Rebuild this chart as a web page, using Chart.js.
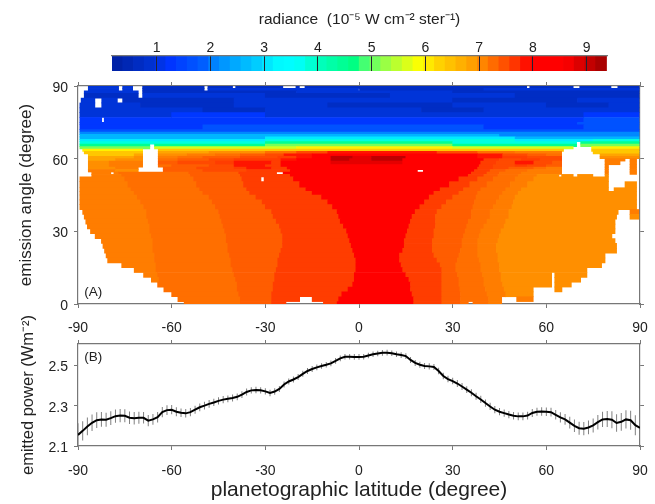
<!DOCTYPE html>
<html><head><meta charset="utf-8">
<style>html,body{margin:0;padding:0;background:#fff;width:655px;height:504px;overflow:hidden}canvas{position:absolute;left:0}</style>
<script src="https://cdn.jsdelivr.net/npm/chart.js@4/dist/chart.umd.min.js"></script>
</head><body>
<canvas id="cb" width="655" height="76" style="top:0"></canvas>
<canvas id="map" width="655" height="262" style="top:76px"></canvas>
<canvas id="pow" width="655" height="198" style="top:306px"></canvas>
<script>
// ---------- data ----------
const colorbarTicks=[1,2,3,4,5,6,7,8,9];
const colorbarLevels=[0.27,0.47,0.67,0.87,1.07,1.27,1.47,1.67,1.87,2.07,2.27,2.47,2.67,2.87,3.07,3.27,3.47,3.67,3.87,4.07,4.27,4.47,4.67,4.87,5.07,5.27,5.47,5.67,5.87,6.07,6.27,6.47,6.67,6.87,7.07,7.27,7.47,7.67,7.87,8.07,8.27,8.47,8.67,8.87,9.07,9.27];
const latTicks=[-90,-60,-30,0,30,60,90];
const angleTicks=[0,30,60,90];
const powerTicks=[2.1,2.3,2.5];
// radiance of each letter used in the map rows
const levelValues={a:.7,b:1,c:1.3,d:1.7,e:2.1,f:2.6,g:3.1,h:3.8,i:4.5,j:5.1,k:5.6,l:6,m:6.4,n:6.8,o:7,p:7.13,q:7.24,r:7.38,s:7.52,t:7.62,u:7.85,v:8.2,w:8.8,x:9.1};
// radiance map: each row [angle from, angle to], then runs lat,level,lat,level,...,endLat ('_' = no data)
const rowAngles=[[0,1],[1,3],[3,5],[5,7],[7,9],[9,11],[11,13],[13,15],[15,17],[17,19],[19,21],[21,23],[23,25],[25,27],[27,29],[29,31],[31,33],[33,35],[35,37],[37,39],[39,41],[41,43],[43,45],[45,46.5],[46.5,48],[48,50.5],[50.5,52.5],[52.5,53.5],[53.5,54.5],[54.5,55.5],[55.5,56.5],[56.5,57.5],[57.5,59],[59,60],[60,61],[61,62],[62,63],[63,64],[64,65],[65,66],[66,67],[67,68],[68,69],[69,70],[70,71],[71,72],[72,74],[74,75],[75,77],[77,79],[79,81],[81,83],[83,85],[85,87],[87,88],[88,89],[89,90]];
const rowRuns=[
[-56,'q',-38,'r',-28,'t',-23.4,'_',-11.4,'t',-7,'v',17.5,'t',26.5,'r',32.5,'q',35,'_',36.5,'q',41.5,'p',45.7],
[-58,'q',-38,'r',-28,'t',-19,'_',-15,'t',-6.5,'v',17.5,'t',26.5,'r',32.5,'q',41.5,'p',45.7,'_',50.5,'p',55.8],
[-60,'q',-38.5,'r',-28,'t',-5.5,'v',17,'t',26.5,'r',32.5,'q',41,'p',47,'o',55.8],
[-62.5,'q',-39,'r',-27.5,'t',-3.5,'v',16.5,'t',26.5,'r',32.3,'q',40.5,'p',46.5,'o',55.8,'_',62.7,'o',65],
[-64.5,'q',-39,'r',-27.5,'t',-2,'v',16.5,'t',26.5,'r',32,'q',40,'p',46,'o',61.7,'_',62.7,'o',68],
[-66.5,'p',-64,'q',-39.5,'r',-27,'t',-1.5,'v',16,'t',26.5,'r',32,'q',40,'p',45.5,'o',61.7,'_',62.7,'o',71],
[-69,'p',-64.5,'q',-40,'r',-27,'t',-1.5,'v',15,'t',26.5,'r',31.5,'q',39.5,'p',45.5,'o',61.7,'_',62.7,'o',73],
[-72,'p',-65,'q',-40.5,'r',-26.5,'t',-1,'v',14,'t',26.5,'r',31,'q',39,'p',45,'o',73],
[-76,'p',-65,'q',-41,'r',-26,'t',-1,'v',13.5,'t',26,'r',31,'q',39,'p',45,'o',77.7],
[-80.5,'p',-65.5,'q',-41,'r',-26,'t',-1,'v',13,'t',25,'r',31.5,'q',38.5,'p',44.5,'o',78.8],
[-81,'p',-65.5,'q',-41.5,'r',-25.5,'t',-1.5,'v',13,'t',24,'r',32,'q',38,'p',44.5,'o',78.8],
[-81.5,'p',-66,'q',-42,'r',-25,'t',-2,'v',14,'t',23.5,'r',32.5,'q',38,'p',44,'o',82.5],
[-82,'p',-66,'q',-42,'r',-24.5,'t',-2.5,'v',14.5,'t',23.5,'r',33,'q',38,'p',44,'o',82.5],
[-82.5,'p',-66,'q',-42.5,'r',-24.5,'t',-3,'v',14.5,'t',23.5,'r',33,'q',38,'p',44.5,'o',82],
[-84.5,'p',-66.5,'q',-42.5,'r',-24.5,'t',-3.5,'v',15,'t',24,'r',33.5,'q',38.5,'p',45,'o',81],
[-86,'p',-67,'q',-43,'r',-25,'t',-4,'v',15.5,'t',24,'r',34,'q',39,'p',45.5,'o',82],
[-87,'p',-67,'q',-43.5,'r',-25.5,'t',-5,'v',16,'t',24.5,'r',34.5,'q',40,'p',46.5,'o',82],
[-87.5,'p',-67.5,'q',-44,'r',-26.5,'t',-6,'v',16.5,'t',24.5,'r',35,'q',41,'p',47,'o',82],
[-88,'p',-68,'q',-44.5,'r',-27.5,'t',-6.5,'v',17,'t',24.5,'r',36,'q',42,'p',48,'o',82.5,'_',86.8,'o',89.6],
[-88.5,'p',-68,'q',-45,'r',-28,'t',-7,'v',18,'t',25,'r',36,'q',42,'p',48,'o',83,'_',86.8,'p',89.6],
[-89.4,'p',-69,'q',-46,'r',-30,'t',-8.5,'v',19.5,'t',26.5,'r',36.5,'q',43,'p',49,'o',88.9],
[-89.4,'p',-70,'q',-47,'r',-31,'t',-10,'v',21,'t',28,'r',37,'q',44,'p',49.5,'o',88.9],
[-89.4,'p',-71,'q',-48,'r',-33,'t',-12,'v',22.5,'t',30,'r',37.5,'q',45,'p',50,'o',88.9],
[-89.4,'p',-72,'q',-50,'r',-35,'t',-15,'v',24,'t',32,'r',38,'q',46,'p',51,'o',88.9],
[-89.4,'p',-73,'q',-51,'r',-36,'t',-17,'v',26,'t',33.5,'r',39,'q',47,'p',52,'o',79.9,'_',81.7,'o',88.9],
[-89.4,'p',-74,'q',-52,'r',-37,'t',-19,'v',29,'t',35.5,'r',41,'q',48.5,'p',54,'o',79.9,'_',85.2,'o',88.9],
[-89.4,'p',-75,'q',-53,'r',-37.5,'t',-31.4,'_',-30.4,'t',-21,'v',32,'t',38,'r',43,'q',50,'p',56,'o',79.9],
[-85.6,'p',-76,'q',-54,'r',-38,'t',-22,'v',35,'t',40,'r',44.5,'q',51,'p',57,'o',64,'_',64.9,'o',68.6,'_',70,'o',74.9,'_',78.8,'o',79.9],
[-85.6,'p',-79.5,'_',-78.5,'p',-77,'q',-54.5,'r',-38.5,'t',-26.4,'_',-24.3,'v',36,'t',41,'r',45,'q',52,'p',64.9,'_',78.8,'p',79.9,'_',86.8,'p',88.9],
[-86.7,'p',-78,'o',-70.7,'_',-62.7,'r',-50,'s',-36,'t',-22,'v',18.7,'_',20.6,'v',37,'t',42,'r',47,'q',54,'p',64.9,'_',78.8,'p',79.9,'_',86.8,'p',88.9],
[-86.7,'o',-78,'p',-70.7,'_',-62.7,'r',-52,'s',-40,'t',-36,'u',-28,'t',-23,'v',38,'t',43,'s',48,'r',56,'q',60,'p',64.9,'_',78.8,'p',79.9,'_',86.8,'p',88.9],
[-86.7,'o',-80,'p',-69.3,'_',-64.3,'q',-60,'r',-48,'s',-40,'u',-30,'t',-25,'v',38.5,'t',43,'s',50,'t',54,'s',60,'r',64.9,'_',78.8,'p',79.9,'_',86.8,'p',88.9],
[-86.7,'o',-80,'p',-69.3,'_',-64.3,'r',-58,'s',-46,'t',-40,'u',-28,'t',-25,'v',-9,'w',14,'v',39,'t',44,'s',50,'u',56,'s',62,'r',64.9,'_',78.8,'p',83.6,'_',86.8,'p',88.9],
[-86.7,'n',-78,'o',-69.3,'_',-64.3,'q',-58,'r',-48,'s',-40,'t',-25,'u',-20,'v',-9,'x',-3,'w',4,'x',14,'v',40,'t',45,'s',52,'t',58,'s',64.9,'_',78.8,'p',85.2,'_',86.8,'p',88.9],
[-86.7,'n',-72,'o',-69.3,'_',-64.3,'p',-58,'q',-50,'r',-38,'s',-26,'t',-20,'u',-15,'v',-9,'x',-2,'w',4,'x',15,'v',38,'u',46,'t',54,'s',64.9,'_',77.2,'o',89.7],
[-86.7,'m',-72,'n',-69.3,'_',-64.3,'o',-55,'p',-46,'q',-38,'r',-30,'s',-24,'u',-15,'v',38,'u',46,'s',54,'r',60,'q',64.9,'_',77.2,'n',89.7],
[-88,'m',-69.3,'_',-64.3,'n',-48,'o',-30,'q',-20,'s',-10,'u',25,'s',38,'q',50,'p',64.9,'_',75,'m',89.7],
[-88.5,'l',-69.3,'_',-64.3,'m',65.5,'_',74.5,'m',89.7],
[-89.4,'j',-67,'_',-65.5,'k',-20,'l',30,'k',68.6,'_',74.5,'l',89.7],
[-89.4,'i',-67,'_',-65.5,'i',-30,'j',30,'i',69.7,'_',71,'j',89.7],
[-89.4,'h',-30,'i',30,'h',69.7,'_',71,'i',89.7],
[-89.4,'g',-30,'h',50,'g',75,'h',89.7],
[-89.4,'f',-30,'g',50,'f',89.7],
[-89.4,'f',45,'e',89.7],
[-89.4,'e',89.7],
[-89.4,'d',89.7],
[-89.4,'c',-50,'d',40,'c',72,'d',89.7],
[-89.4,'c',70,'d',89.7],
[-89.4,'c',-82.4,'_',-81.6,'c',72,'d',89.7],
[-89.4,'b',-60,'c',-30,'b',72,'c',89.7],
[-89.4,'b',-50,'a',-30,'b',20,'a',40,'b',89.7],
[-89.4,'b',-84.6,'_',-82.4,'b',-70,'a',-40,'b',-10,'a',30,'b',60,'a',80,'b',89.7],
[-89,'b',-84.6,'_',-82.4,'b',-77.4,'_',-75.7,'a',-40,'b',30,'a',70,'b',89.7],
[-88,'a',-70.7,'_',-69.3,'b',-30,'a',10,'b',50,'a',89.7],
[-88,'b',-70.7,'_',-69.3,'a',-20,'b',30,'a',89.7],
[-86.7,'b',-77,'_',-75.7,'b',-72.5,'_',-69.3,'a',-49.6,'_',-48.4,'b',0,'a',40,'b',89.7],
[-86.7,'b',-77,'_',-75.7,'b',-72.5,'_',-69.3,'a',-49.6,'_',-48.4,'a',-40.5,'_',-39.5,'a',-24.4,'_',-20.2,'a',-19.1,'_',-17.3,'a',53.7,'_',54.7,'a',68.6,'_',70.7,'a',80.7,'_',82.9,'a',89.7]
];
// emitted power vs latitude
const powerLat=[-90,-88.5,-87,-85.5,-84,-82.5,-81,-79.5,-78,-76.5,-75,-73.5,-72,-70.5,-69,-67.5,-66,-64.5,-63,-61.5,-60,-58.5,-57,-55.5,-54,-52.5,-51,-49.5,-48,-46.5,-45,-43.5,-42,-40.5,-39,-37.5,-36,-34.5,-33,-31.5,-30,-28.5,-27,-25.5,-24,-22.5,-21,-19.5,-18,-16.5,-15,-13.5,-12,-10.5,-9,-7.5,-6,-4.5,-3,-1.5,0,1.5,3,4.5,6,7.5,9,10.5,12,13.5,15,16.5,18,19.5,21,22.5,24,25.5,27,28.5,30,31.5,33,34.5,36,37.5,39,40.5,42,43.5,45,46.5,48,49.5,51,52.5,54,55.5,57,58.5,60,61.5,63,64.5,66,67.5,69,70.5,72,73.5,75,76.5,78,79.5,81,82.5,84,85.5,87,88.5,90];
const powerVal=[2.155,2.175,2.197,2.215,2.228,2.232,2.230,2.238,2.248,2.251,2.250,2.240,2.238,2.240,2.240,2.226,2.232,2.243,2.268,2.278,2.280,2.270,2.265,2.262,2.268,2.280,2.292,2.300,2.309,2.316,2.324,2.330,2.334,2.338,2.344,2.355,2.368,2.376,2.378,2.376,2.371,2.363,2.370,2.383,2.405,2.420,2.430,2.442,2.458,2.472,2.482,2.490,2.497,2.503,2.510,2.522,2.535,2.543,2.543,2.542,2.542,2.543,2.549,2.555,2.559,2.562,2.563,2.560,2.555,2.551,2.546,2.527,2.512,2.503,2.497,2.495,2.492,2.472,2.447,2.432,2.422,2.410,2.395,2.380,2.364,2.347,2.331,2.313,2.296,2.280,2.270,2.263,2.256,2.250,2.247,2.247,2.251,2.264,2.270,2.271,2.270,2.268,2.255,2.242,2.232,2.216,2.200,2.188,2.186,2.192,2.202,2.218,2.232,2.234,2.230,2.214,2.220,2.232,2.228,2.203,2.190];
const powerErr=[.058,.048,.044,.041,.039,.037,.035,.034,.033,.033,.032,.031,.031,.030,.029,.028,.027,.026,.025,.024,.023,.022,.021,.021,.020,.020,.019,.019,.019,.018,.018,.018,.017,.017,.017,.017,.017,.016,.016,.016,.016,.016,.016,.015,.015,.015,.015,.015,.015,.015,.015,.014,.014,.014,.014,.014,.014,.014,.014,.014,.014,.014,.014,.014,.014,.014,.014,.014,.014,.014,.014,.015,.015,.015,.015,.015,.015,.016,.016,.016,.016,.017,.017,.017,.017,.017,.018,.018,.018,.018,.018,.018,.018,.019,.019,.019,.019,.020,.020,.021,.021,.022,.023,.025,.027,.029,.031,.032,.033,.034,.035,.036,.038,.040,.042,.043,.044,.045,.047,.050,.054];

// ---------- colour scale ----------
const colorStops=[[0.17,'#0020a0'],[1,'#0034d8'],[1.2,'#0030ff'],[1.9,'#0060ff'],[2.1,'#0088ff'],[2.9,'#00d0ff'],[3.2,'#00f8ff'],[3.6,'#00ffff'],[4,'#00ffc0'],[4.7,'#00ff80'],[4.9,'#50ff70'],[5.3,'#a0ff40'],[5.9,'#ffff00'],[6.2,'#ffd800'],[6.9,'#ff9c00'],[7.2,'#ff7400'],[7.6,'#ff4000'],[7.8,'#ff2000'],[7.95,'#ff0000'],[8.6,'#ff0000'],[8.9,'#d80000'],[9.38,'#9c0000']];
function colorOf(v){
  for(let i=1;i<colorStops.length;i++){
    if(v<=colorStops[i][0]){
      const [a,ca]=colorStops[i-1],[b,cb]=colorStops[i],t=Math.max(0,(v-a)/(b-a));
      const h=(c,k)=>parseInt(c.substr(1+2*k,2),16);
      return 'rgb('+[0,1,2].map(k=>Math.round(h(ca,k)+(h(cb,k)-h(ca,k))*t)).join(',')+')';
    }
  }
  return colorStops[colorStops.length-1][1];
}

// ---------- shared styling ----------
const FONT="'Liberation Sans',Helvetica,Arial,sans-serif";
const AXIS='#777',TXT='#222';
Chart.defaults.font.family=FONT;
Chart.defaults.color=TXT;
Chart.defaults.animation=false;
Chart.defaults.plugins.legend.display=false;
Chart.defaults.plugins.tooltip.enabled=false;
const noPad=s=>{s.paddingLeft=s.paddingRight=s.paddingTop=s.paddingBottom=0};
const fixW=w=>s=>{s.width=w;noPad(s)};
const fixH=h=>s=>{s.height=h;noPad(s)};
const setTicks=a=>s=>{s.ticks=a.map(v=>({value:v}))};
function axis(min,max,ticks,pos,size,showLabels,pad){
  const horiz=pos==='top'||pos==='bottom';
  return {type:'linear',position:pos,min,max,offset:false,
    afterBuildTicks:setTicks(ticks),
    afterFit:horiz?fixH(size):fixW(size),
    grid:{display:true,offset:false,drawOnChartArea:false,drawTicks:true,tickLength:4,color:AXIS},
    border:{display:true,color:AXIS,width:1.2},
    ticks:{display:showLabels,autoSkip:false,maxRotation:0,padding:pad,font:{size:14},color:TXT,callback:v=>String(v)}};
}
const panelLabel=(text,xVal,yVal)=>({id:'panelLabel',afterDraw(c){
  const g=c.ctx;g.save();g.font='13.5px '+FONT;g.fillStyle=TXT;g.textBaseline='middle';
  g.fillText(text,c.scales.x.getPixelForValue(xVal),c.scales.y.getPixelForValue(yVal));g.restore();}});

// ---------- colour bar ----------
new Chart(document.getElementById('cb'),{
  type:'bar',
  data:{datasets:[{data:colorbarLevels.map(v=>({x:v,y:1})),backgroundColor:colorbarLevels.map(colorOf),
    grouped:false,barPercentage:100,categoryPercentage:1,maxBarThickness:10.75,inflateAmount:.4,borderWidth:0}]},
  options:{responsive:false,layout:{padding:{left:112,right:48,bottom:5,top:0}},
    scales:{
      x:{type:'linear',position:'top',min:.17,max:9.38,offset:false,afterBuildTicks:setTicks(colorbarTicks),afterFit:fixH(56),
        grid:{display:true,offset:false,z:1,color:'#223',drawTicks:false,drawOnChartArea:true},
        border:{display:true,z:1,color:AXIS,width:1.2},
        ticks:{autoSkip:false,maxRotation:0,padding:-1,font:{size:14},color:TXT,callback:v=>String(v)},
        title:{display:true,text:'radiance  (10\u207B\u2075 W cm\u207B\u00B2 ster\u207B\u00B9)',font:{size:15.5},color:TXT,padding:{top:10,bottom:0}}},
      y:{display:false,min:0,max:1}
    }}
});

// ---------- radiance map ----------
const PLOT_H=218;
const mapSets=rowRuns.map((runs,i)=>{
  const [lo,hi]=rowAngles[i],data=[],colors=[];
  for(let k=1;k+1<runs.length;k+=2){
    if(runs[k]==='_')continue;
    data.push({x:[runs[k-1],runs[k+1]],y:(lo+hi)/2});
    colors.push(colorOf(levelValues[runs[k]]));
  }
  return {data,backgroundColor:colors,grouped:false,barPercentage:100,categoryPercentage:1,
    maxBarThickness:(hi-lo)*PLOT_H/90,inflateAmount:.35,borderWidth:0};
});
const mapY=axis(0,90,angleTicks,'left',78,true,6);
mapY.ticks.labelOffset=2;
mapY.title={display:true,text:'emission angle (degree)',font:{size:17},color:TXT,padding:{top:16,bottom:0}};
new Chart(document.getElementById('map'),{
  type:'bar',
  data:{datasets:mapSets},
  plugins:[panelLabel('(A)',-88,5)],
  options:{responsive:false,indexAxis:'y',layout:{padding:0},
    scales:{
      x:axis(-90,90,latTicks,'bottom',34,true,12),
      x2:axis(-90,90,latTicks,'top',10,false,0),
      y:mapY,
      y2:axis(0,90,angleTicks,'right',15,false,0)
    }}
});

// ---------- emitted power ----------
const powY=axis(2.1,2.606,powerTicks,'left',78,true,6);
powY.ticks.labelOffset=2;
powY.title={display:true,text:'emitted power (Wm\u207B\u00B2)',font:{size:16.5},color:TXT,padding:{top:19,bottom:0}};
const powX=axis(-90,90,latTicks,'bottom',58,true,13);
powX.title={display:true,text:'planetographic latitude (degree)',font:{size:21},color:TXT,padding:{top:0,bottom:1}};
new Chart(document.getElementById('pow'),{
  type:'bar',
  data:{datasets:[
    {type:'line',data:powerLat.map((x,i)=>({x,y:powerVal[i]})),borderColor:'#000',borderWidth:2,pointRadius:0,tension:0,order:1},
    {type:'bar',data:powerLat.map((x,i)=>({x,y:[powerVal[i]-powerErr[i],powerVal[i]+powerErr[i]]})),backgroundColor:'#808080',
      grouped:false,barPercentage:100,categoryPercentage:1,maxBarThickness:1,borderWidth:0,order:2}
  ]},
  plugins:[panelLabel('(B)',-88,2.54)],
  options:{responsive:false,layout:{padding:0},
    scales:{
      x:powX,
      x2:axis(-90,90,latTicks,'top',38,false,0),
      y:powY,
      y2:axis(2.1,2.606,powerTicks,'right',15,false,0)
    }}
});
</script>
</body></html>
